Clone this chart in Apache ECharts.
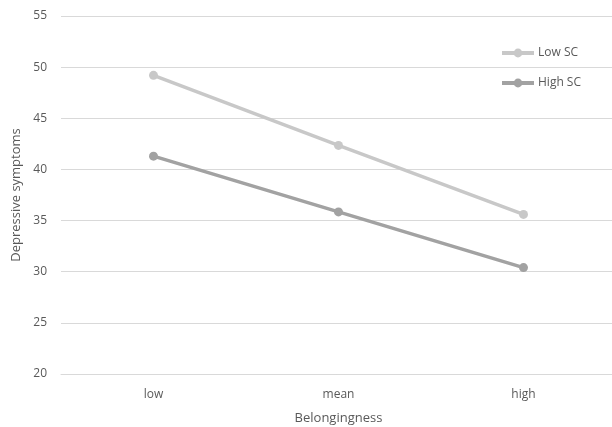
<!DOCTYPE html>
<html>
<head>
<meta charset="utf-8">
<script src="https://cdn.jsdelivr.net/npm/echarts@6/dist/echarts.min.js"></script>
<style>html,body{margin:0;padding:0;background:#fff;}#c{width:612px;height:427px;}</style>
</head>
<body>
<div id="c"></div>
<script>
const categories = ['low', 'mean', 'high'];
const lowSC = [49.2, 42.35, 35.6];
const highSC = [41.3, 35.85, 30.4];
const yTicks = [20, 25, 30, 35, 40, 45, 50, 55];
const seriesNames = ['Low SC', 'High SC'];

const FONT = 'Open Sans';
const TXT = '#595959';
const chart = echarts.init(document.getElementById('c'), null, {renderer: 'canvas'});
chart.setOption({
  animation: false,
  textStyle: {fontFamily: FONT},
  grid: {left: 61, top: 16, width: 555, bottom: 53, containLabel: false, outerBoundsMode: 'none'},
  legend: {
    orient: 'vertical',
    left: 495, top: 42,
    itemWidth: 32, itemHeight: 11, itemGap: 18,
    lineStyle: {width: 4},
    textStyle: {color: TXT, fontSize: 12, fontFamily: FONT, padding: [0, 0, 0, -1]},
    data: seriesNames
  },
  xAxis: {
    type: 'category',
    data: categories,
    boundaryGap: true,
    axisLine: {show: true, lineStyle: {color: '#d9d9d9', width: 1}},
    axisTick: {show: false},
    axisLabel: {color: TXT, fontSize: 12, margin: 15},
    name: 'Belongingness',
    nameLocation: 'middle',
    nameGap: 38,
    nameTextStyle: {color: TXT, fontSize: 13}
  },
  yAxis: {
    type: 'value',
    min: yTicks[0], max: yTicks[yTicks.length - 1], interval: 5,
    axisLine: {show: false},
    axisTick: {show: false},
    axisLabel: {color: TXT, fontSize: 12, margin: 14},
    splitLine: {lineStyle: {color: '#d9d9d9', width: 1}},
    name: 'Depressive symptoms',
    nameLocation: 'middle',
    nameGap: 38,
    nameTextStyle: {color: TXT, fontSize: 13}
  },
  series: [
    {name: seriesNames[0], type: 'line', data: lowSC, symbol: 'circle', symbolSize: 9,
     lineStyle: {color: '#c8c8c8', width: 3.5}, itemStyle: {color: '#c8c8c8'}},
    {name: seriesNames[1], type: 'line', data: highSC, symbol: 'circle', symbolSize: 9,
     lineStyle: {color: '#a2a2a2', width: 3.5}, itemStyle: {color: '#a2a2a2'}}
  ]
});
</script>
</body>
</html>
